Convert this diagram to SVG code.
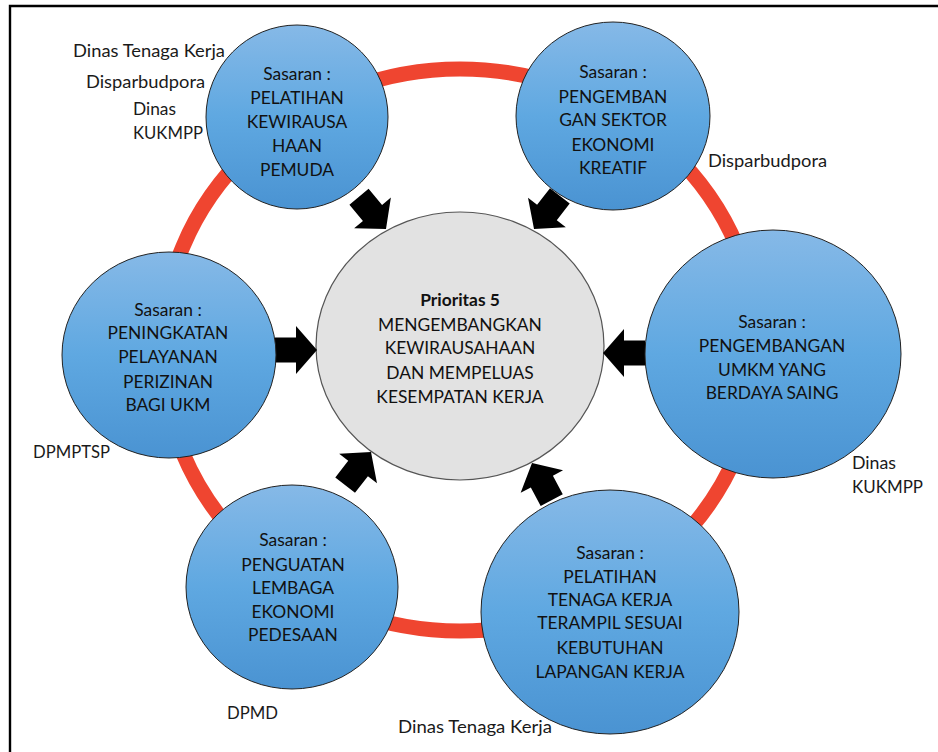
<svg xmlns="http://www.w3.org/2000/svg" width="938" height="752" viewBox="0 0 938 752">
<defs>
<linearGradient id="blue" x1="0" y1="0" x2="0" y2="1">
<stop offset="0" stop-color="#86b9e7"/>
<stop offset="0.5" stop-color="#5fa8e1"/>
<stop offset="1" stop-color="#4a93d2"/>
</linearGradient>
<path id="arr" d="M0,-12.5 H21 V-24 L42,0 L21,24 V12.5 H0 Z"/>
</defs>
<style>
.frame{stroke:#000;stroke-width:2.4;fill:none}
.ring{fill:none;stroke:#ef4530;stroke-width:15}
.node{fill:url(#blue);stroke:#222;stroke-width:1}
.core{fill:#e2e2e2;stroke:#555;stroke-width:1.2}
.t{font-family:Lato,"Open Sans",sans-serif;font-size:17.4px;fill:#111;text-anchor:middle}
.b{font-weight:bold}
.lbl{font-family:Lato,"Open Sans",sans-serif;font-size:18.2px;fill:#1a1a1a}
.arrow{fill:#000}
</style>
<rect width="938" height="752" fill="#fff"/>
<path class="frame" d="M938,6 H10 V752"/>
<ellipse class="ring" cx="460" cy="350" rx="298" ry="281"/>
<g id="center">
<ellipse class="core" cx="460" cy="346" rx="144" ry="134"/>
<text class="t b" x="460" y="306">Prioritas 5</text>
<text class="t" x="460" y="331">MENGEMBANGKAN</text>
<text class="t" x="460" y="354">KEWIRAUSAHAAN</text>
<text class="t" x="460" y="379">DAN MEMPELUAS</text>
<text class="t" x="460" y="403">KESEMPATAN KERJA</text>
</g>
<g id="connectors">
<use href="#arr" class="arrow" transform="translate(317,350) rotate(0) translate(-42,0)"/>
<use href="#arr" class="arrow" transform="translate(603,353) rotate(180) translate(-42,0)"/>
<use href="#arr" class="arrow" transform="translate(386,229) rotate(50) translate(-42,0)"/>
<use href="#arr" class="arrow" transform="translate(534,229) rotate(128) translate(-42,0)"/>
<use href="#arr" class="arrow" transform="translate(371,452) rotate(-52) translate(-42,0)"/>
<use href="#arr" class="arrow" transform="translate(532,463) rotate(-118) translate(-42,0)"/>
</g>
<g id="n1">
<ellipse class="node" cx="297" cy="117" rx="91" ry="92"/>
<text class="t" x="297" y="80">Sasaran :</text>
<text class="t" x="297" y="104">PELATIHAN</text>
<text class="t" x="297" y="128">KEWIRAUSA</text>
<text class="t" x="297" y="152">HAAN</text>
<text class="t" x="297" y="176">PEMUDA</text>
</g>
<g id="n2">
<ellipse class="node" cx="613" cy="116" rx="97" ry="94"/>
<text class="t" x="613" y="78">Sasaran :</text>
<text class="t" x="613" y="103">PENGEMBAN</text>
<text class="t" x="613" y="126">GAN SEKTOR</text>
<text class="t" x="613" y="151">EKONOMI</text>
<text class="t" x="613" y="174">KREATIF</text>
</g>
<g id="n3">
<ellipse class="node" cx="773" cy="354" rx="128" ry="124"/>
<text class="t" x="772" y="328">Sasaran :</text>
<text class="t" x="772" y="352">PENGEMBANGAN</text>
<text class="t" x="772" y="376">UMKM YANG</text>
<text class="t" x="772" y="399">BERDAYA SAING</text>
</g>
<g id="n4">
<ellipse class="node" cx="610" cy="612" rx="129" ry="122"/>
<text class="t" x="610" y="559">Sasaran :</text>
<text class="t" x="610" y="583">PELATIHAN</text>
<text class="t" x="610" y="606">TENAGA KERJA</text>
<text class="t" x="610" y="629">TERAMPIL SESUAI</text>
<text class="t" x="610" y="654">KEBUTUHAN</text>
<text class="t" x="610" y="678">LAPANGAN KERJA</text>
</g>
<g id="n5">
<ellipse class="node" cx="292" cy="587" rx="106" ry="102"/>
<text class="t" x="293" y="546">Sasaran :</text>
<text class="t" x="293" y="571">PENGUATAN</text>
<text class="t" x="293" y="594">LEMBAGA</text>
<text class="t" x="293" y="618">EKONOMI</text>
<text class="t" x="293" y="641">PEDESAAN</text>
</g>
<g id="n6">
<ellipse class="node" cx="169" cy="355" rx="107" ry="103"/>
<text class="t" x="168" y="316">Sasaran :</text>
<text class="t" x="168" y="339">PENINGKATAN</text>
<text class="t" x="168" y="363">PELAYANAN</text>
<text class="t" x="168" y="388">PERIZINAN</text>
<text class="t" x="168" y="411">BAGI UKM</text>
</g>
<g id="labels">
<text class="lbl" x="73" y="57" textLength="152" lengthAdjust="spacingAndGlyphs">Dinas Tenaga Kerja</text>
<text class="lbl" x="86" y="88" textLength="119" lengthAdjust="spacingAndGlyphs">Disparbudpora</text>
<text class="lbl" x="133" y="115" textLength="43" lengthAdjust="spacingAndGlyphs">Dinas</text>
<text class="lbl" x="133" y="139" textLength="70" lengthAdjust="spacingAndGlyphs">KUKMPP</text>
<text class="lbl" x="708" y="167" textLength="119" lengthAdjust="spacingAndGlyphs">Disparbudpora</text>
<text class="lbl" x="33" y="458" textLength="77" lengthAdjust="spacingAndGlyphs">DPMPTSP</text>
<text class="lbl" x="852" y="469" textLength="44" lengthAdjust="spacingAndGlyphs">Dinas</text>
<text class="lbl" x="852" y="493" textLength="71" lengthAdjust="spacingAndGlyphs">KUKMPP</text>
<text class="lbl" x="227" y="719" textLength="51" lengthAdjust="spacingAndGlyphs">DPMD</text>
<text class="lbl" x="398" y="733" textLength="154" lengthAdjust="spacingAndGlyphs">Dinas Tenaga Kerja</text>
</g>
</svg>
